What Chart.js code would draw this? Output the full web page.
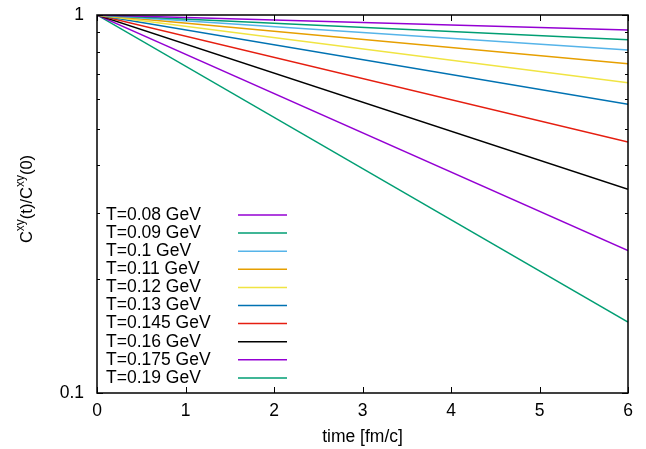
<!DOCTYPE html>
<html>
<head>
<meta charset="utf-8">
<script src="https://cdn.jsdelivr.net/npm/chart.js@4/dist/chart.umd.min.js"></script>
<style>
    html, body { margin: 0; padding: 0; background: #fff; }
    #wrap { width: 646px; height: 449px; }
</style>
</head>
<body>
<div id="wrap"><canvas id="chart" width="646" height="449"></canvas></div>
<script>
    // temperatures and value of C^xy(t)/C^xy(0) at t = 0 and t = 6 fm/c
    const labels = ["T=0.08 GeV", "T=0.09 GeV", "T=0.1 GeV", "T=0.11 GeV", "T=0.12 GeV",
        "T=0.13 GeV", "T=0.145 GeV", "T=0.16 GeV", "T=0.175 GeV", "T=0.19 GeV"];
    const times = [0, 6];
    const startValues = [1, 1, 1, 1, 1, 1, 1, 1, 1, 1];
    const endValues = [0.913, 0.860, 0.808, 0.743, 0.662, 0.581, 0.461, 0.346, 0.238, 0.154];
    const colors = ["#9400d3", "#009e73", "#56b4e9", "#e69f00", "#f0e442",
        "#0072b2", "#e51e10", "#000000", "#9400d3", "#009e73"];
    const xTicks = [0, 1, 2, 3, 4, 5, 6];
    const yTicks = [0.1, 0.2, 0.3, 0.4, 0.5, 0.6, 0.7, 0.8, 0.9, 1];

    const fontFamily = "'Liberation Sans', Arial, sans-serif";
    const fontSize = 17.5;

    const datasets = labels.map((label, i) => ({
        label,
        data: times.map((t, k) => ({ x: t, y: k === 0 ? startValues[i] : endValues[i] })),
        borderColor: colors[i],
        borderWidth: 1.5,
        pointRadius: 0,
        fill: false,
        tension: 0,
    }));

    // frame, inward ticks, legend and y title, gnuplot style
    const gnuplotFrame = {
        id: "gnuplotFrame",
        afterDatasetsDraw(chart) {
            const ctx = chart.ctx;
            const a = chart.chartArea;
            const xs = chart.scales.x;
            const ys = chart.scales.y;
            ctx.save();
            ctx.strokeStyle = "#000";
            ctx.lineWidth = 1;

            ctx.beginPath();
            xTicks.forEach((v) => {
                const px = Math.round(xs.getPixelForValue(v)) + 0.5;
                ctx.moveTo(px, a.bottom);
                ctx.lineTo(px, a.bottom - 6);
                ctx.moveTo(px, a.top);
                ctx.lineTo(px, a.top + 6);
            });
            yTicks.forEach((v) => {
                const py = Math.round(ys.getPixelForValue(v)) + 0.5;
                const len = v === 1 || v === 0.1 ? 6 : 3;
                ctx.moveTo(a.left, py);
                ctx.lineTo(a.left + len, py);
                ctx.moveTo(a.right, py);
                ctx.lineTo(a.right - len, py);
            });
            ctx.stroke();

            ctx.lineWidth = 1.5;
            ctx.strokeRect(a.left, a.top, a.right - a.left, a.bottom - a.top);

            // legend
            ctx.font = fontSize + "px " + fontFamily;
            ctx.textBaseline = "middle";
            ctx.textAlign = "left";
            chart.data.datasets.forEach((ds, i) => {
                const y = 215 + i * 18.1;
                ctx.fillStyle = "#000";
                ctx.fillText(ds.label, 106, y);
                ctx.strokeStyle = ds.borderColor;
                ctx.lineWidth = 1.5;
                ctx.beginPath();
                ctx.moveTo(238, y);
                ctx.lineTo(287, y);
                ctx.stroke();
            });

            // y title with superscripts
            ctx.translate(27, 199);
            ctx.rotate(-Math.PI / 2);
            ctx.textBaseline = "middle";
            const parts = [["C", 0], ["xy", 1], ["(t)/C", 0], ["xy", 1], ["(0)", 0]];
            const big = "16.5px " + fontFamily;
            const small = "12px " + fontFamily;
            let w = 0;
            parts.forEach(([s, sup]) => {
                ctx.font = sup ? small : big;
                w += ctx.measureText(s).width;
            });
            let x = -w / 2;
            ctx.fillStyle = "#000";
            parts.forEach(([s, sup]) => {
                ctx.font = sup ? small : big;
                ctx.fillText(s, x, sup ? -6 : 0);
                x += ctx.measureText(s).width;
            });
            ctx.restore();
        },
    };

    new Chart(document.getElementById("chart"), {
        type: "line",
        data: { datasets },
        options: {
            responsive: false,
            animation: false,
            layout: { padding: { left: 0, right: 18, top: 15, bottom: 0 } },
            plugins: { legend: { display: false }, tooltip: { enabled: false } },
            scales: {
                x: {
                    type: "linear",
                    min: 0,
                    max: 6,
                    afterFit: (s) => {
                        s.height = 56;
                        s.paddingLeft = 0;
                        s.paddingRight = 0;
                    },
                    afterBuildTicks: (s) => { s.ticks = xTicks.map((v) => ({ value: v })); },
                    grid: { display: false, drawTicks: false },
                    border: { display: false },
                    ticks: {
                        color: "#000",
                        padding: 8,
                        maxRotation: 0,
                        font: { family: fontFamily, size: fontSize },
                    },
                    title: {
                        display: true,
                        text: "time [fm/c]",
                        color: "#000",
                        font: { family: fontFamily, size: fontSize },
                        padding: { top: 0, bottom: 1 },
                    },
                },
                y: {
                    type: "logarithmic",
                    min: 0.1,
                    max: 1,
                    afterFit: (s) => {
                        s.width = 97;
                        s.paddingTop = 0;
                        s.paddingBottom = 0;
                    },
                    afterBuildTicks: (s) => { s.ticks = yTicks.map((v) => ({ value: v })); },
                    grid: { display: false, drawTicks: false },
                    border: { display: false },
                    ticks: {
                        color: "#000",
                        padding: 13,
                        autoSkip: false,
                        font: { family: fontFamily, size: fontSize },
                        callback: (v) => (v === 1 ? "1" : v === 0.1 ? "0.1" : ""),
                    },
                },
            },
        },
        plugins: [gnuplotFrame],
    });
</script>
</body>
</html>
